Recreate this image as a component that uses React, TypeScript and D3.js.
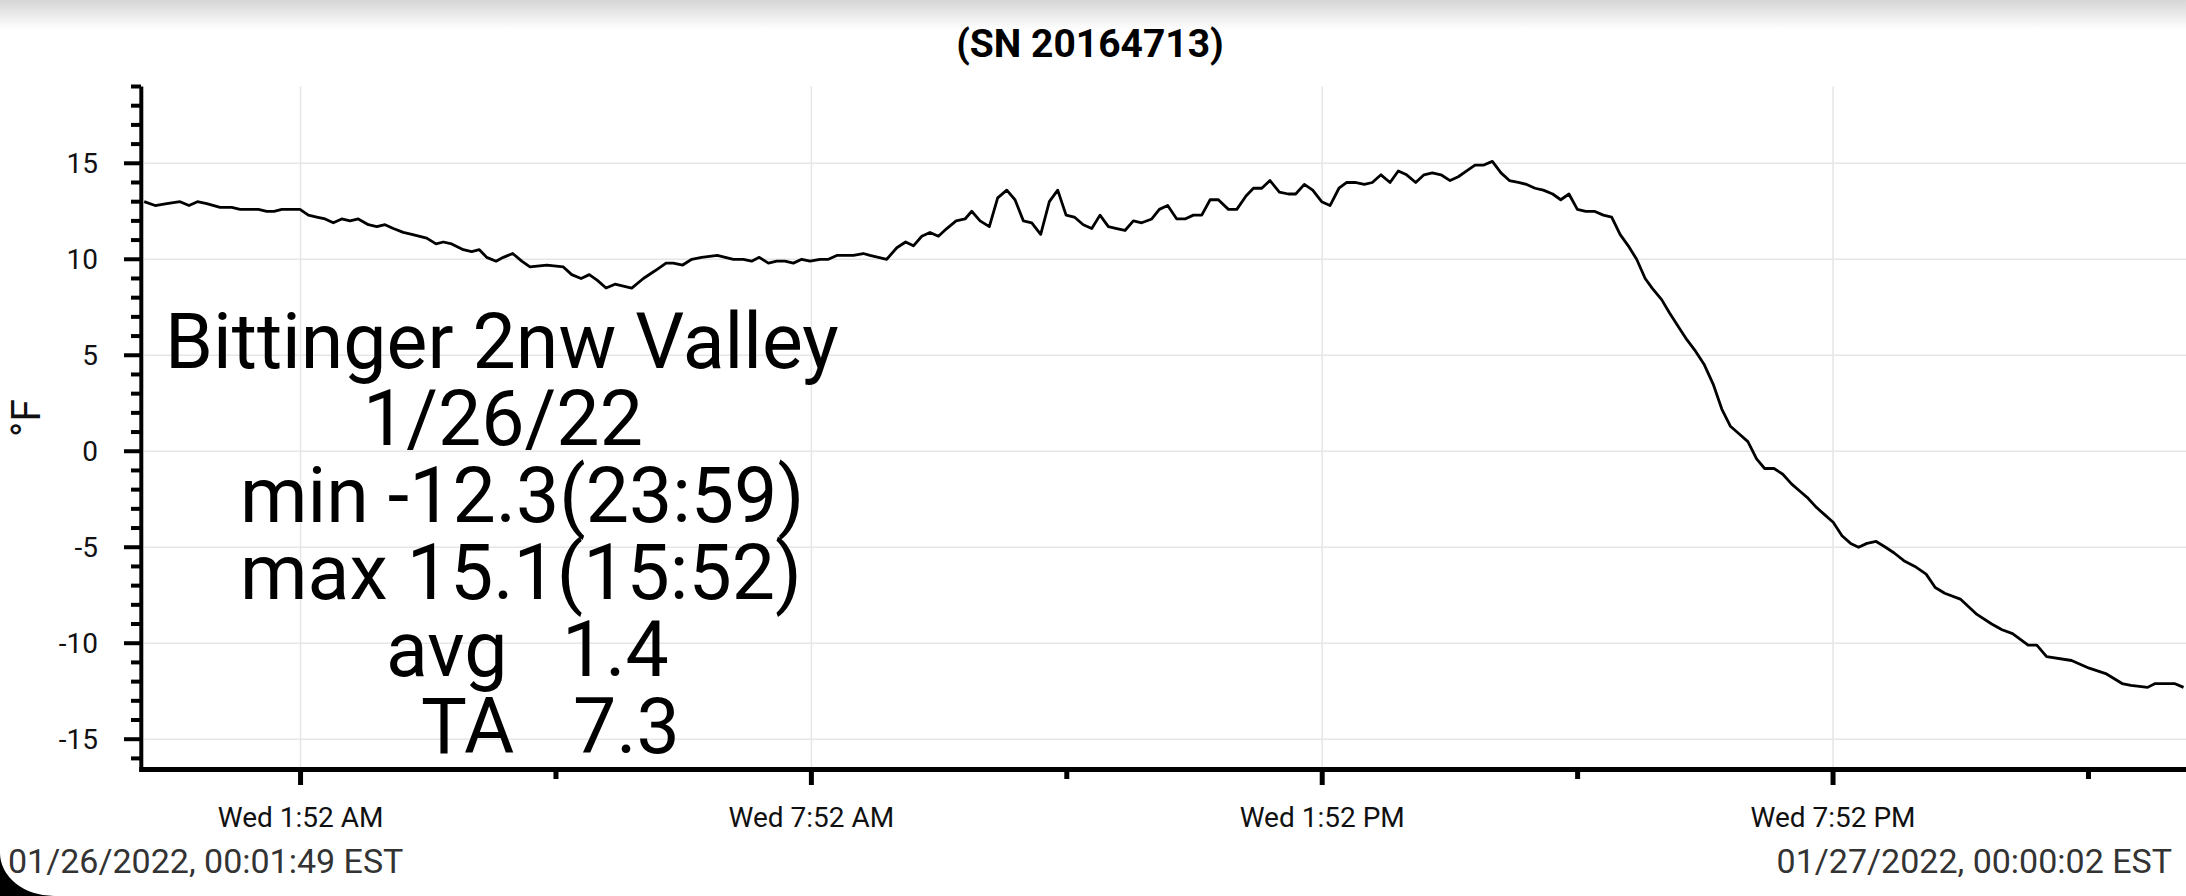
import * as d3 from 'd3';

// Logger readings, minutes after midnight 1/26/22 and °F
const minutes = [
  1.8, 9.5, 17.7, 27.1, 33.4, 39.3, 45.9, 55.3, 63.5, 69.4,
  75.2, 82.3, 88.2, 93.3, 98.8, 111.6, 117.5, 123.4, 129.3, 135.1,
  141.0, 146.9, 152.7, 159.8, 165.7, 171.5, 177.4, 184.4, 190.4, 200.9,
  207.5, 212.6, 218.5, 226.7, 232.6, 238.0, 243.2, 249.8, 254.9, 261.5,
  267.9, 273.7, 285.5, 297.2, 303.1, 309.7, 315.5, 321.2, 327.3, 333.6,
  339.5, 345.4, 353.6, 361.8, 369.6, 374.7, 381.3, 387.7, 394.7, 405.7,
  417.0, 424.0, 429.9, 435.3, 441.7, 447.6, 453.4, 459.3, 465.2, 471.0,
  478.1, 484.0, 489.9, 495.7, 501.6, 508.6, 513.3, 519.2, 525.1, 532.2,
  538.4, 543.9, 549.8, 555.6, 561.5, 567.4, 574.0, 580.3, 585.0, 590.9,
  597.4, 603.3, 609.7, 615.5, 621.4, 627.3, 633.6, 639.7, 645.6, 651.5,
  657.3, 663.6, 669.6, 675.4, 681.3, 687.2, 693.0, 698.9, 704.8, 711.9,
  717.2, 723.1, 729.5, 735.3, 741.2, 747.1, 753.0, 758.8, 765.9, 771.8,
  778.3, 783.5, 789.4, 795.2, 801.8, 808.1, 813.3, 819.4, 825.3, 831.6,
  837.5, 843.8, 849.3, 855.1, 861.7, 867.3, 873.4, 879.8, 885.6, 891.5,
  897.9, 903.7, 909.6, 915.7, 922.1, 927.9, 933.8, 939.7, 945.5, 951.9,
  958.0, 963.9, 970.2, 976.1, 982.0, 987.8, 994.4, 1000.1, 1005.9, 1011.8,
  1017.7, 1023.8, 1030.1, 1036.0, 1041.9, 1047.7, 1053.6, 1059.6, 1064.5, 1071.2,
  1076.8, 1082.9, 1089.1, 1095.2, 1101.3, 1107.5, 1113.6, 1119.7, 1125.9, 1132.0,
  1138.1, 1143.8, 1150.4, 1156.6, 1162.7, 1168.9, 1173.7, 1179.9, 1186.0, 1192.1,
  1198.3, 1204.4, 1210.0, 1215.9, 1222.4, 1229.0, 1235.1, 1241.9, 1249.7, 1257.6,
  1264.0, 1270.7, 1281.7, 1293.4, 1303.8, 1311.1, 1318.5, 1329.5, 1335.6, 1342.5,
  1360.1, 1372.5, 1384.7, 1395.7, 1401.9, 1413.7, 1419.0, 1432.6, 1439.0,
];

const temps = [
  13.0, 12.8, 12.9, 13.0, 12.8, 13.0, 12.9, 12.7, 12.7, 12.6,
  12.6, 12.6, 12.5, 12.5, 12.6, 12.6, 12.3, 12.2, 12.1, 11.9,
  12.1, 12.0, 12.1, 11.8, 11.7, 11.8, 11.6, 11.4, 11.3, 11.1,
  10.8, 10.9, 10.8, 10.5, 10.4, 10.5, 10.1, 9.9, 10.1, 10.3,
  9.9, 9.6, 9.7, 9.6, 9.2, 9.0, 9.2, 8.9, 8.5, 8.7,
  8.6, 8.5, 9.0, 9.4, 9.8, 9.8, 9.7, 10.0, 10.1, 10.2,
  10.0, 10.0, 9.9, 10.1, 9.8, 9.9, 9.9, 9.8, 10.0, 9.9,
  10.0, 10.0, 10.2, 10.2, 10.2, 10.3, 10.2, 10.1, 10.0, 10.6,
  10.9, 10.7, 11.2, 11.4, 11.2, 11.6, 12.0, 12.1, 12.5, 12.0,
  11.7, 13.2, 13.6, 13.1, 12.0, 11.9, 11.3, 13.0, 13.6, 12.3,
  12.2, 11.8, 11.6, 12.3, 11.7, 11.6, 11.5, 12.0, 11.9, 12.1,
  12.6, 12.8, 12.1, 12.1, 12.3, 12.3, 13.1, 13.1, 12.6, 12.6,
  13.3, 13.7, 13.7, 14.1, 13.5, 13.4, 13.4, 13.9, 13.6, 13.0,
  12.8, 13.7, 14.0, 14.0, 13.9, 14.0, 14.4, 14.0, 14.6, 14.4,
  14.0, 14.4, 14.5, 14.4, 14.1, 14.3, 14.6, 14.9, 14.9, 15.1,
  14.5, 14.1, 14.0, 13.9, 13.7, 13.6, 13.4, 13.1, 13.4, 12.6,
  12.5, 12.5, 12.3, 12.2, 11.3, 10.7, 10.0, 9.0, 8.5, 7.9,
  7.2, 6.5, 5.8, 5.2, 4.5, 3.5, 2.2, 1.3, 0.9, 0.5,
  -0.4, -0.9, -0.9, -1.2, -1.7, -2.1, -2.4, -2.9, -3.3, -3.7,
  -4.4, -4.8, -5.0, -4.8, -4.7, -5.0, -5.3, -5.7, -6.0, -6.4,
  -7.1, -7.4, -7.7, -8.5, -9.0, -9.3, -9.5, -10.1, -10.1, -10.7,
  -10.9, -11.3, -11.6, -12.1, -12.2, -12.3, -12.1, -12.1, -12.3,
];

const title = '(SN 20164713)';
const yLabel = '°F';
const startLabel = '01/26/2022, 00:01:49 EST';
const endLabel = '01/27/2022, 00:00:02 EST';

// big annotation block: [left part, right part]
const noteLines: [string, string][] = [
  ['Bittinger 2nw Valley', ''],
  ['1/26/22', ''],
  ['min -12.3(23:59)', ''],
  ['max 15.1(15:52)', ''],
  ['avg', '1.4'],
  ['TA', '7.3'],
];
const noteX = [165, 363, 240, 240, 386, 421];
const noteValueX = [0, 0, 0, 0, 562, 573];

const W = 2186;
const H = 896;
const FONT = 'Roboto, sans-serif';

const t0 = new Date(2022, 0, 26, 0, 1, 49);
const t1 = new Date(2022, 0, 27, 0, 0, 2);
const midnight = new Date(2022, 0, 26, 0, 0, 0).getTime();

export default function App() {
  const data = minutes.map((m, i) => ({ t: new Date(midnight + m * 60000), v: temps[i] }));

  const x = d3.scaleTime().domain([t0, t1]).range([144.2, 2185]);
  const y = d3.scaleLinear().domain([-16.5, 19]).range([768, 86.5]);

  const line = d3.line<{ t: Date; v: number }>()
    .x(d => x(d.t))
    .y(d => y(d.v));

  const yMajor = y.ticks(7);
  const yMinor = y.ticks(35).filter(v => !yMajor.includes(v));

  // ticks every 3 hours from 1:52 AM, labelled every 6 hours
  const firstTick = midnight + 112 * 60000;
  const xTicks = d3.range(0, 8).map(i => new Date(firstTick + i * 3 * 3600000));
  const fmt = d3.timeFormat('%a %-I:%M %p');

  const [x0] = x.range();
  const [yb, yt] = y.range();

  return (
    <svg width={W} height={H} style={{ position: 'absolute', left: 0, top: 0, background: '#fff' }}>
      <defs>
        <linearGradient id="topShade" x1="0" y1="0" x2="0" y2="1">
          <stop offset="0" stopColor="#d6d6d6" />
          <stop offset="1" stopColor="#ffffff" />
        </linearGradient>
      </defs>
      <rect x={0} y={0} width={W} height={30} fill="url(#topShade)" />

      <text x={1090} y={57} textAnchor="middle" fontFamily={FONT} fontWeight="bold" fontSize={39} fill="#000">
        {title}
      </text>

      {/* grid */}
      {yMajor.map(v => (
        <line key={'gy' + v} x1={x0} x2={W} y1={y(v)} y2={y(v)} stroke="#e6e6e6" strokeWidth={1.5} />
      ))}
      {xTicks.filter((_, i) => i % 2 === 0).map(d => (
        <line key={'gx' + d.getTime()} x1={x(d)} x2={x(d)} y1={yt} y2={yb} stroke="#e6e6e6" strokeWidth={1.5} />
      ))}

      {/* series */}
      <path d={line(data) ?? ''} fill="none" stroke="#000" strokeWidth={2.8} strokeLinejoin="round" />

      {/* y axis */}
      <line x1={141.3} x2={141.3} y1={yt} y2={yb + 4} stroke="#000" strokeWidth={4} />
      {yMajor.map(v => (
        <g key={'ty' + v}>
          <line x1={124} x2={141} y1={y(v)} y2={y(v)} stroke="#000" strokeWidth={4} />
          <text x={98} y={y(v)} dy="0.36em" textAnchor="end" fontFamily={FONT} fontSize={28} fill="#111">
            {v}
          </text>
        </g>
      ))}
      {yMinor.map(v => (
        <line key={'my' + v} x1={131} x2={141} y1={y(v)} y2={y(v)} stroke="#000" strokeWidth={4} />
      ))}
      <text transform="translate(40,418) rotate(-90)" textAnchor="middle" fontFamily={FONT} fontSize={41} fill="#111">
        {yLabel}
      </text>

      {/* x axis */}
      <line x1={139.3} x2={W} y1={769.5} y2={769.5} stroke="#000" strokeWidth={5} />
      {xTicks.map((d, i) => (
        <g key={'tx' + i}>
          <line x1={x(d)} x2={x(d)} y1={772} y2={i % 2 === 0 ? 785 : 779} stroke="#000" strokeWidth={5} />
          {i % 2 === 0 && (
            <text x={x(d)} y={827} textAnchor="middle" fontFamily={FONT} fontSize={28} fill="#111">
              {fmt(d)}
            </text>
          )}
        </g>
      ))}

      {/* annotation */}
      {noteLines.map(([a, b], i) => (
        <g key={'n' + i}>
          <text x={noteX[i]} y={368 + i * 77} fontFamily={FONT} fontSize={77} fill="#000">
            {a}
          </text>
          {b && (
            <text x={noteValueX[i]} y={368 + i * 77} fontFamily={FONT} fontSize={77} fill="#000">
              {b}
            </text>
          )}
        </g>
      ))}

      {/* footer */}
      <text x={8} y={873} fontFamily={FONT} fontSize={34} fill="#333">
        {startLabel}
      </text>
      <text x={2172} y={873} textAnchor="end" fontFamily={FONT} fontSize={34} fill="#333">
        {endLabel}
      </text>
      <path d={`M0,853 A54,43 0 0,0 54,${H} L0,${H} Z`} fill="#000" />
    </svg>
  );
}
